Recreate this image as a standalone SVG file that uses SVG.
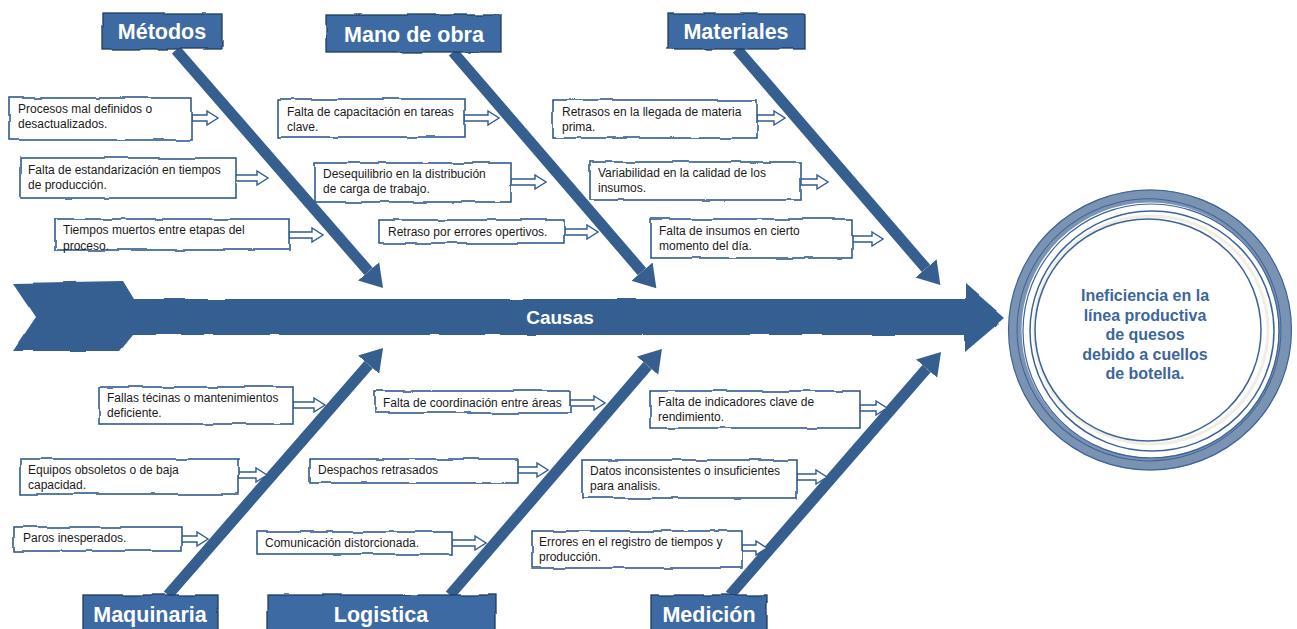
<svg xmlns="http://www.w3.org/2000/svg" width="1297" height="629" viewBox="0 0 1297 629">
<style>
.box{fill:#fff;stroke:#2f5b8e;stroke-width:1.6}
.hdr{fill:#3c6aa3;stroke:#1f3b60;stroke-width:1.3}
.htxt{font-family:"Liberation Sans",Arial,sans-serif;font-weight:bold;font-size:21.5px;fill:#fff;text-anchor:middle}
.t{font-family:"Liberation Sans",Arial,sans-serif;font-size:12px;fill:#1a1a1a}
.bone{stroke:#365f90;stroke-width:11;fill:none}
.sa{fill:#fff;stroke:#2f5b8e;stroke-width:1.4;stroke-linejoin:miter}
.ctxt{font-family:"Liberation Sans",Arial,sans-serif;font-weight:bold;font-size:16px;fill:#3d669b;text-anchor:middle}
</style>
<defs>
<filter id="rough" x="-5%" y="-20%" width="110%" height="140%">
<feTurbulence type="fractalNoise" baseFrequency="0.035" numOctaves="2" seed="3"/>
<feDisplacementMap in="SourceGraphic" scale="3.5" xChannelSelector="R" yChannelSelector="G"/>
</filter>
<filter id="rough2" x="-2%" y="-10%" width="104%" height="120%">
<feTurbulence type="fractalNoise" baseFrequency="0.02" numOctaves="2" seed="7"/>
<feDisplacementMap in="SourceGraphic" scale="3" xChannelSelector="R" yChannelSelector="G"/>
</filter>
<marker id="ah" markerUnits="userSpaceOnUse" viewBox="0 -15 24 30" markerWidth="24" markerHeight="30" refX="0" refY="0" orient="auto">
<path d="M0,-14 L22,0 L0,14 z" fill="#365f90"/>
</marker>
</defs>
<rect width="1297" height="629" fill="#fff"/>

<g id="spine">
<polygon points="13,283 123,281 134,299 965,299 965,283 1005,318 965,352 965,335 133,335 120,351 13,351 36,317" fill="#365f90" filter="url(#rough2)"/>
<text x="560" y="324" font-family="Liberation Sans,Arial,sans-serif" font-weight="bold" font-size="19" fill="#fff" text-anchor="middle">Causas</text>
</g>

<g id="connectors">
<line class="bone" x1="176" y1="50" x2="368.6" y2="271.4" marker-end="url(#ah)"/>
<line class="bone" x1="453" y1="52" x2="642" y2="271.6" marker-end="url(#ah)"/>
<line class="bone" x1="737" y1="49" x2="926" y2="268.4" marker-end="url(#ah)"/>
<line class="bone" x1="168" y1="595" x2="368.6" y2="364.6" marker-end="url(#ah)"/>
<line class="bone" x1="450" y1="595" x2="647.6" y2="365.7" marker-end="url(#ah)"/>
<line class="bone" x1="730" y1="595" x2="926.6" y2="368.6" marker-end="url(#ah)"/>
<polygon class="sa" points="192,115 207,115 207,111 218,118 207,125 207,121 192,121"/>
<polygon class="sa" points="236,175 257,175 257,171 268,178 257,185 257,181 236,181"/>
<polygon class="sa" points="289,232 312,232 312,228 323,235 312,242 312,238 289,238"/>
<polygon class="sa" points="464,115 488,115 488,111 499,118 488,125 488,121 464,121"/>
<polygon class="sa" points="511,179 535,179 535,175 546,182 535,189 535,185 511,185"/>
<polygon class="sa" points="564,229 587,229 587,225 598,232 587,239 587,235 564,235"/>
<polygon class="sa" points="757,115 774,115 774,111 785,118 774,125 774,121 757,121"/>
<polygon class="sa" points="801,179 817,179 817,175 828,182 817,189 817,185 801,185"/>
<polygon class="sa" points="852,236 872,236 872,232 883,239 872,246 872,242 852,242"/>
<polygon class="sa" points="293,402 314,402 314,398 325,405 314,412 314,408 293,408"/>
<polygon class="sa" points="238,472 256,472 256,468 267,475 256,482 256,478 238,478"/>
<polygon class="sa" points="181,536 197,536 197,532 208,539 197,546 197,542 181,542"/>
<polygon class="sa" points="570,400 594,400 594,396 605,403 594,410 594,406 570,406"/>
<polygon class="sa" points="518,467 537,467 537,463 548,470 537,477 537,473 518,473"/>
<polygon class="sa" points="452,540 475,540 475,536 486,543 475,550 475,546 452,546"/>
<polygon class="sa" points="860,405 876,405 876,401 887,408 876,415 876,411 860,411"/>
<polygon class="sa" points="797,474 816,474 816,470 827,477 816,484 816,480 797,480"/>
<polygon class="sa" points="742,545 756,545 756,541 767,548 756,555 756,551 742,551"/>
</g>

<g id="hdr-metodos"><rect class="hdr" x="103" y="13" width="119" height="36" filter="url(#rough)"/><text class="htxt" x="162" y="39">Métodos</text></g>
<g id="hdr-manodeobra"><rect class="hdr" x="326" y="15" width="175" height="37" filter="url(#rough)"/><text class="htxt" x="414" y="42">Mano de obra</text></g>
<g id="hdr-materiales"><rect class="hdr" x="668" y="14" width="137" height="35" filter="url(#rough)"/><text class="htxt" x="736" y="39">Materiales</text></g>
<g id="hdr-maquinaria"><rect class="hdr" x="83" y="595" width="135" height="40" filter="url(#rough)"/><text class="htxt" x="150" y="622">Maquinaria</text></g>
<g id="hdr-logistica"><rect class="hdr" x="267" y="595" width="228" height="40" filter="url(#rough)"/><text class="htxt" x="381" y="622">Logistica</text></g>
<g id="hdr-medicion"><rect class="hdr" x="651" y="595" width="116" height="40" filter="url(#rough)"/><text class="htxt" x="709" y="622">Medición</text></g>

<g id="m1"><rect class="box" x="9" y="98" width="183" height="42" filter="url(#rough)"/><text class="t" x="18" y="113">Procesos mal definidos o</text><text class="t" x="18" y="128">desactualizados.</text></g>
<g id="m2"><rect class="box" x="21" y="158" width="215" height="40" filter="url(#rough)"/><text class="t" x="28" y="174">Falta de estandarización en tiempos</text><text class="t" x="28" y="189">de producción.</text></g>
<g id="m3"><rect class="box" x="55" y="219" width="234" height="31" filter="url(#rough)"/><text class="t" x="63" y="234">Tiempos muertos entre etapas del</text><text class="t" x="63" y="250">proceso.</text></g>

<g id="mo1"><rect class="box" x="278" y="99" width="186" height="38" filter="url(#rough)"/><text class="t" x="287" y="116">Falta de capacitación en tareas</text><text class="t" x="287" y="131">clave.</text></g>
<g id="mo2"><rect class="box" x="315" y="163" width="196" height="39" filter="url(#rough)"/><text class="t" x="323" y="178">Desequilibrio en la distribución</text><text class="t" x="323" y="193">de carga de trabajo.</text></g>
<g id="mo3"><rect class="box" x="379" y="220" width="185" height="23" filter="url(#rough)"/><text class="t" x="388" y="236">Retraso por errores opertivos.</text></g>

<g id="ma1"><rect class="box" x="553" y="100" width="204" height="38" filter="url(#rough)"/><text class="t" x="562" y="116">Retrasos en la llegada de materia</text><text class="t" x="562" y="131">prima.</text></g>
<g id="ma2"><rect class="box" x="590" y="162" width="211" height="38" filter="url(#rough)"/><text class="t" x="598" y="177">Variabilidad en la calidad de los</text><text class="t" x="598" y="192">insumos.</text></g>
<g id="ma3"><rect class="box" x="651" y="219" width="201" height="39" filter="url(#rough)"/><text class="t" x="659" y="235">Falta de insumos en cierto</text><text class="t" x="659" y="250">momento del día.</text></g>

<g id="q1"><rect class="box" x="99" y="387" width="194" height="37" filter="url(#rough)"/><text class="t" x="107" y="402">Fallas técinas o mantenimientos</text><text class="t" x="107" y="417">deficiente.</text></g>
<g id="q2"><rect class="box" x="20" y="459" width="218" height="35" filter="url(#rough)"/><text class="t" x="28" y="474">Equipos obsoletos o de baja</text><text class="t" x="28" y="489">capacidad.</text></g>
<g id="q3"><rect class="box" x="14" y="527" width="167" height="24" filter="url(#rough)"/><text class="t" x="23" y="542">Paros inesperados.</text></g>

<g id="l1"><rect class="box" x="375" y="391" width="195" height="22" filter="url(#rough)"/><text class="t" x="383" y="407">Falta de coordinación entre áreas</text></g>
<g id="l2"><rect class="box" x="310" y="459" width="208" height="24" filter="url(#rough)"/><text class="t" x="318" y="474">Despachos retrasados</text></g>
<g id="l3"><rect class="box" x="257" y="532" width="195" height="22" filter="url(#rough)"/><text class="t" x="265" y="547">Comunicación distorcionada.</text></g>

<g id="me1"><rect class="box" x="650" y="391" width="210" height="37" filter="url(#rough)"/><text class="t" x="658" y="406">Falta de indicadores clave de</text><text class="t" x="658" y="421">rendimiento.</text></g>
<g id="me2"><rect class="box" x="582" y="460" width="215" height="38" filter="url(#rough)"/><text class="t" x="590" y="475">Datos inconsistentes o insuficientes</text><text class="t" x="590" y="490">para analisis.</text></g>
<g id="me3"><rect class="box" x="532" y="531" width="210" height="37" filter="url(#rough)"/><text class="t" x="539" y="546">Errores en el registro de tiempos y</text><text class="t" x="539" y="561">producción.</text></g>

<g id="effect">
<ellipse cx="1150" cy="330" rx="135" ry="134" fill="none" stroke="#7b93b2" stroke-width="13"/>
<ellipse cx="1150" cy="330" rx="141.5" ry="140" fill="none" stroke="#3e6497" stroke-width="1.2"/>
<ellipse cx="1151" cy="331" rx="128" ry="127" fill="none" stroke="#3e6497" stroke-width="1.2"/>
<ellipse cx="1149" cy="330" rx="132" ry="131" fill="none" stroke="#3e6497" stroke-width="1" transform="rotate(8 1150 330)"/>
<ellipse cx="1152" cy="331" rx="122" ry="120" fill="none" stroke="#3e6497" stroke-width="1.5"/>
<ellipse cx="1151" cy="330" rx="117" ry="114" fill="none" stroke="#efeee6" stroke-width="3"/>
<ellipse cx="1148" cy="330" rx="113" ry="111" fill="none" stroke="#3e6497" stroke-width="1.5"/>
<text class="ctxt" x="1145" y="301">Ineficiencia en la</text>
<text class="ctxt" x="1145" y="321">línea productiva</text>
<text class="ctxt" x="1145" y="340">de quesos</text>
<text class="ctxt" x="1145" y="360">debido a cuellos</text>
<text class="ctxt" x="1145" y="379">de botella.</text>
</g>
</svg>
